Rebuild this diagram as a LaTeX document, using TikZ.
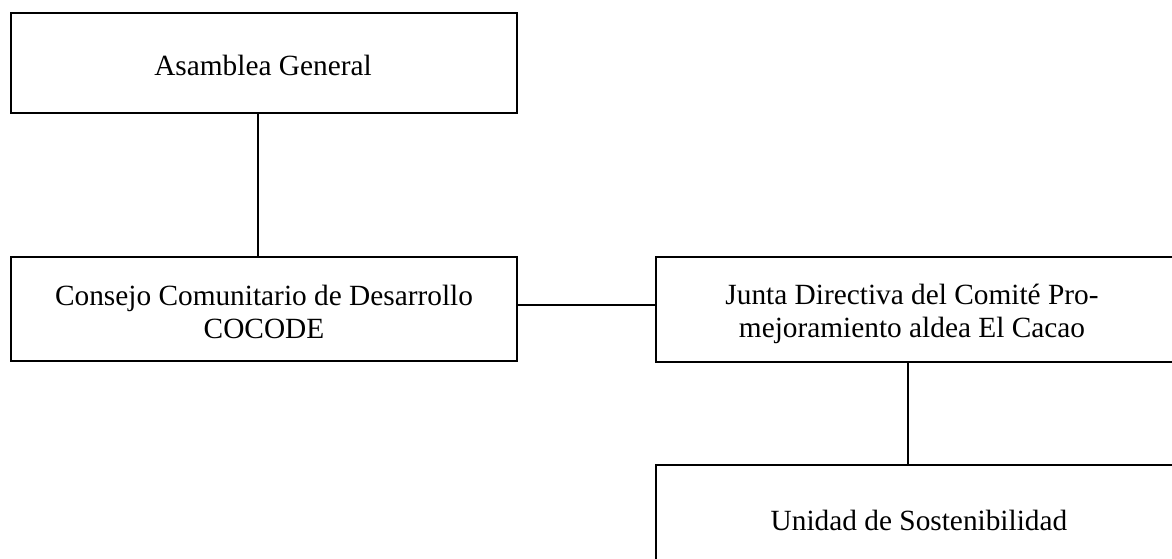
\documentclass[tikz,border=0pt]{standalone}
\usepackage{fontspec}
\setmainfont{Liberation Serif}
\tikzset{
  orgbox/.style={draw=black, line width=1pt, rectangle, inner sep=0pt},
  orgtext/.style={align=center, inner sep=0pt, font=\fontsize{22}{24.75}\selectfont},
  conn/.style={draw=black, line width=0.9pt}
}
\begin{document}
\begin{tikzpicture}[x=0.75pt,y=-0.75pt]
\useasboundingbox (0,0) rectangle (1172,559);
\clip (0,0) rectangle (1172,559);
\node[orgbox, minimum width=506*0.75pt, minimum height=100*0.75pt] (asamblea) at (264,63) {};
\node[orgtext] (asamblea-t) at (263,65) {Asamblea General};
\node[orgbox, minimum width=506*0.75pt, minimum height=104*0.75pt] (consejo) at (264,309) {};
\node[orgtext] (consejo-t) at (264,311.5) {Consejo Comunitario de Desarrollo\\COCODE};
\node[orgbox, minimum width=526*0.75pt, minimum height=105*0.75pt] (junta) at (919,309.5) {};
\node[orgtext] (junta-t) at (912,313.5) {Junta Directiva del Comité Pro-\\mejoramiento aldea El Cacao};
\node[orgbox, minimum width=526*0.75pt, minimum height=104*0.75pt] (unidad) at (919,517) {};
\node[orgtext] (unidad-t) at (919,520) {Unidad de Sostenibilidad};
\coordinate (l1) at (258,0);
\coordinate (l2) at (908,0);
\coordinate (h1) at (0,305);
\draw[conn] (asamblea.south -| l1) -- (consejo.north -| l1);
\draw[conn] (consejo.east |- h1) -- (junta.west |- h1);
\draw[conn] (junta.south -| l2) -- (unidad.north -| l2);
\end{tikzpicture}
\end{document}
